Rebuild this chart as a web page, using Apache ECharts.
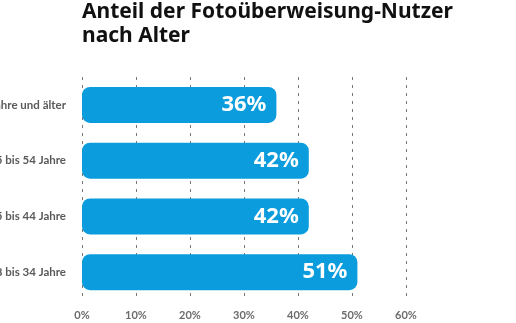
<!DOCTYPE html>
<html>
<head>
<meta charset="utf-8">
<script src="https://cdn.jsdelivr.net/npm/echarts@6/dist/echarts.min.js"></script>
<style>
  html, body { margin: 0; padding: 0; background: #ffffff; }
  #chart { width: 516px; height: 323px; }
</style>
</head>
<body>
<div id="chart"></div>
<script>
// Age groups, top to bottom
const categories = ['55 Jahre und älter', '45 bis 54 Jahre', '35 bis 44 Jahre', '18 bis 34 Jahre'];
// Share of users per age group, in percent
const shares = [36, 42, 42, 51];
// Percentage axis ticks
const tickValues = [0, 10, 20, 30, 40, 50, 60];

const chart = echarts.init(document.getElementById('chart'), null, { renderer: 'canvas' });

chart.setOption({
  backgroundColor: '#ffffff',
  animation: false,
  title: {
    text: 'Anteil der Fotoüberweisung-Nutzer\nnach Alter',
    left: 82,
    top: 0,
    padding: 0,
    textStyle: {
      fontFamily: 'Noto Sans',
      fontWeight: 'bold',
      fontSize: 21,
      lineHeight: 24,
      color: '#111111'
    }
  },
  grid: { left: 82, right: 110, top: 77, bottom: 23, outerBoundsMode: 'none', containLabel: false },
  xAxis: {
    type: 'value',
    min: tickValues[0],
    max: tickValues[tickValues.length - 1],
    interval: 10,
    axisLine: { show: false },
    axisTick: { show: false },
    axisLabel: {
      formatter: v => v + '%',
      fontFamily: 'Lato',
      fontWeight: 'bold',
      fontSize: 11,
      color: '#6b6b6b',
      margin: 10
    },
    splitLine: {
      show: true,
      lineStyle: { type: [3, 5], color: '#777777', width: 1 }
    }
  },
  yAxis: {
    type: 'category',
    data: categories,
    inverse: true,
    axisLine: { show: false },
    axisTick: { show: false },
    axisLabel: {
      fontFamily: 'Lato',
      fontWeight: 'bold',
      fontSize: 11.5,
      color: '#5a5a5a',
      margin: 16
    }
  },
  series: [{
    type: 'bar',
    data: shares,
    barWidth: 36,
    itemStyle: { color: '#0a9cdc', borderRadius: 8 },
    label: {
      show: true,
      position: 'insideRight',
      distance: 10,
      formatter: p => p.value + '%',
      fontFamily: 'Noto Sans',
      fontWeight: 'bold',
      fontSize: 22,
      color: '#ffffff'
    }
  }]
});
</script>
</body>
</html>
